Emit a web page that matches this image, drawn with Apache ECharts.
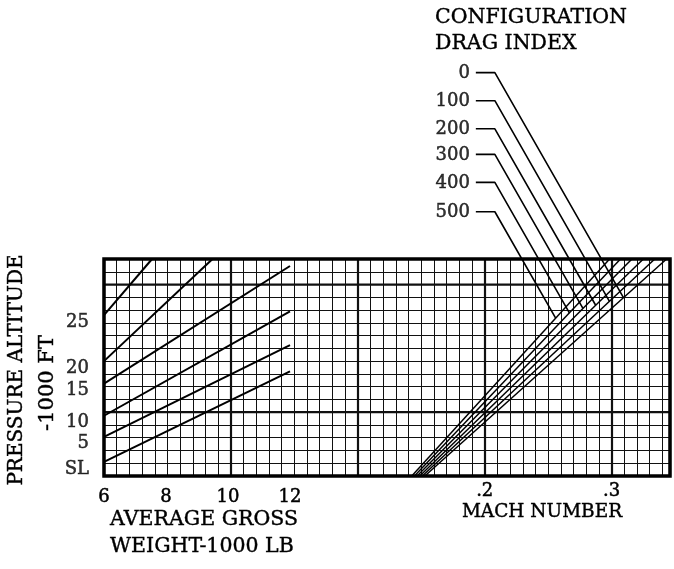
<!DOCTYPE html>
<html>
<head>
<meta charset="utf-8">
<script src="https://cdn.jsdelivr.net/npm/echarts@6/dist/echarts.min.js"></script>
<style>
  html, body { margin: 0; padding: 0; background: #fff; }
  #chart { width: 674px; height: 569px; }
</style>
</head>
<body>
<div id="chart"></div>
<script>
// ---- Weight panel: pressure altitude lines (x = 1000 lb, y = chart grid rows) ----
const altitudeLabels = ['SL', '5', '10', '15', '20', '25'];
const altStartRow    = [1.1, 3.07, 4.72, 7.24, 9.0, 12.6];   // row at 6000 lb
const altEndWeight   = [12, 12, 12, 12, 9.5, 7.55];
const altEndRow      = [8.2, 10.25, 12.9, 16.45, 17, 17];

const weightTicks = [6, 8, 10, 12];

// ---- Mach panel: configuration drag index lines ----
const dragIndex = [0, 100, 200, 300, 400, 500];
const machAtSL  = [0.1528, 0.1508, 0.1488, 0.1467, 0.1446, 0.1425];
const machAtTop = [0.3433, 0.3340, 0.3250, 0.3160, 0.3070, 0.2984];

const machTicks = [0.2, 0.3];
const machTickText = ['.2', '.3'];

// ---- Layout ----
const FONT = '"DejaVu Serif", "Liberation Serif", serif';
const PLOT = { left: 104, right: 4, top: 259, bottom: 93 };
const ROWS = 17;                 // grid rows in the plotting frame
const ROWS_TALL = 36;            // rows in the overlay used by the leader lines
const cellPx = (569 - PLOT.top - PLOT.bottom) / ROWS;
const tallTop = 569 - PLOT.bottom - ROWS_TALL * cellPx;
const MACH_MIN = -0.1, MACH_MAX = 0.346;
const WEIGHT_MIN = 6;
const weightPerPx = 1 / 31;
const WEIGHT_MAX = WEIGHT_MIN + (674 - PLOT.left - PLOT.right) * weightPerPx;
const heavyRows = [5, 15];

// Leader lines from the drag index legend down to each line
const legendRows = [31.6, 29.4, 27.2, 25.2, 23.0, 20.7];
const dashFrom = 0.193, dashTo = 0.208;
const leaderSlope = 174;          // rows per unit Mach (descending to the right)

const INK = '#111';
const TEXT_STROKE = { textBorderColor: '#000', textBorderWidth: 0.5 };

const series = [];

// heavy horizontal rules
heavyRows.forEach(r => {
  series.push({
    type: 'line', xAxisIndex: 0, yAxisIndex: 0, silent: true,
    symbol: 'none', clip: false,
    lineStyle: { color: INK, width: 2.2 },
    data: [[MACH_MIN, r], [MACH_MAX, r]],
    z: 1
  });
});

// altitude lines on the weight panel
altitudeLabels.forEach((lab, i) => {
  series.push({
    type: 'line', xAxisIndex: 2, yAxisIndex: 0, silent: true,
    symbol: 'none', clip: false,
    lineStyle: { color: '#000', width: 2 },
    data: [[WEIGHT_MIN, altStartRow[i]], [altEndWeight[i], altEndRow[i]]],
    z: 3
  });
});
series.push({
  type: 'scatter', xAxisIndex: 2, yAxisIndex: 0, silent: true,
  symbolSize: 0, clip: false,
  data: altitudeLabels.map((lab, i) => ({
    value: [WEIGHT_MIN, altStartRow[i]],
    label: Object.assign({
      show: true, position: 'left', distance: 15, offset: [0, 7],
      formatter: lab, fontFamily: FONT, fontSize: 18, color: '#000'
    }, TEXT_STROKE)
  }))
});

// drag index lines on the Mach panel, plus leaders to the legend
dragIndex.forEach((di, i) => {
  const mb = machAtSL[i], mt = machAtTop[i];
  series.push({
    type: 'line', xAxisIndex: 0, yAxisIndex: 0, silent: true,
    symbol: 'none', clip: false,
    lineStyle: { color: '#000', width: 1.5 },
    data: [[mb, 0], [mt, ROWS]],
    z: 3
  });
  // where the leader meets its line
  const s = ROWS / (mt - mb);
  const y0 = legendRows[i];
  const mHit = (y0 + leaderSlope * dashTo + s * mb) / (leaderSlope + s);
  const yHit = s * (mHit - mb);
  series.push({
    type: 'line', xAxisIndex: 3, yAxisIndex: 1, silent: true,
    symbol: 'none', clip: false,
    lineStyle: { color: '#000', width: 1.6 },
    data: [[dashFrom, y0], [dashTo, y0], [mHit, yHit]],
    z: 3
  });
});
series.push({
  type: 'scatter', xAxisIndex: 3, yAxisIndex: 1, silent: true,
  symbolSize: 0, clip: false,
  data: dragIndex.map((di, i) => ({
    value: [dashFrom, legendRows[i]],
    label: Object.assign({
      show: true, position: 'left', distance: 6, offset: [0, 1],
      formatter: String(di), fontFamily: FONT, fontSize: 18, color: '#000'
    }, TEXT_STROKE)
  }))
});

const hiddenAxis = { axisLine: { show: false }, axisTick: { show: false }, axisLabel: { show: false }, splitLine: { show: false } };

function caption(text, x, y, size, align, rotate) {
  return {
    type: 'text', x: x, y: y, rotation: rotate ? Math.PI / 2 : 0,
    style: {
      text: text, font: size + 'px ' + FONT, fill: '#000',
      stroke: '#000', lineWidth: 0.4,
      align: align, verticalAlign: 'middle', textAlign: align, textVerticalAlign: 'middle'
    }
  };
}

const option = {
  animation: false,
  backgroundColor: '#fff',
  grid: [
    { left: PLOT.left, right: PLOT.right, top: PLOT.top, bottom: PLOT.bottom,
      show: true, borderColor: '#000', borderWidth: 3.5, backgroundColor: 'transparent', z: 4 },
    { left: PLOT.left, right: PLOT.right, top: tallTop, bottom: PLOT.bottom, show: false }
  ],
  xAxis: [
    // fine Mach rulings
    Object.assign({}, hiddenAxis, {
      gridIndex: 0, type: 'value', position: 'bottom',
      min: MACH_MIN, max: MACH_MAX, interval: 0.01,
      splitLine: { show: true, lineStyle: { color: INK, width: 1 } }
    }),
    // heavy Mach rulings and Mach labels
    Object.assign({}, hiddenAxis, {
      gridIndex: 0, type: 'value', position: 'bottom',
      min: MACH_MIN, max: MACH_MAX, interval: 0.1,
      splitLine: { show: true, lineStyle: { color: INK, width: 2.2 } },
      axisLabel: Object.assign({
        show: true, margin: 6, fontFamily: FONT, fontSize: 18, color: '#000',
        showMaxLabel: false, showMinLabel: false,
        formatter: v => {
          const k = machTicks.findIndex(t => Math.abs(t - v) < 1e-6);
          return k >= 0 ? machTickText[k] : '';
        }
      }, TEXT_STROKE)
    }),
    // gross weight scale
    Object.assign({}, hiddenAxis, {
      gridIndex: 0, type: 'value', position: 'bottom',
      min: WEIGHT_MIN, max: WEIGHT_MAX, interval: 2,
      axisLabel: Object.assign({
        show: true, margin: 12, fontFamily: FONT, fontSize: 18, color: '#000',
        showMaxLabel: false,
        formatter: v => weightTicks.indexOf(Math.round(v)) >= 0 && Math.abs(v - Math.round(v)) < 1e-6 ? String(Math.round(v)) : ''
      }, TEXT_STROKE)
    }),
    // Mach scale for the tall overlay
    Object.assign({}, hiddenAxis, {
      gridIndex: 1, type: 'value', min: MACH_MIN, max: MACH_MAX
    })
  ],
  yAxis: [
    Object.assign({}, hiddenAxis, {
      gridIndex: 0, type: 'value', min: 0, max: ROWS, interval: 1,
      splitLine: { show: true, lineStyle: { color: INK, width: 1 } }
    }),
    Object.assign({}, hiddenAxis, {
      gridIndex: 1, type: 'value', min: 0, max: ROWS_TALL
    })
  ],
  graphic: [
    caption('CONFIGURATION', 435, 18, 20.5, 'left'),
    caption('DRAG INDEX', 435, 44, 20.5, 'left'),
    caption('PRESSURE ALTITUDE', 17, 370, 20, 'center', true),
    caption('-1000 FT', 48, 383, 21, 'center', true),
    caption('AVERAGE GROSS', 110, 520, 20.5, 'left'),
    caption('WEIGHT-1000 LB', 110, 547, 20.5, 'left'),
    caption('MACH NUMBER', 542, 512, 18.5, 'center')
  ],
  series: series
};

const chart = echarts.init(document.getElementById('chart'), null, { renderer: 'canvas' });
chart.setOption(option);
</script>
</body>
</html>
